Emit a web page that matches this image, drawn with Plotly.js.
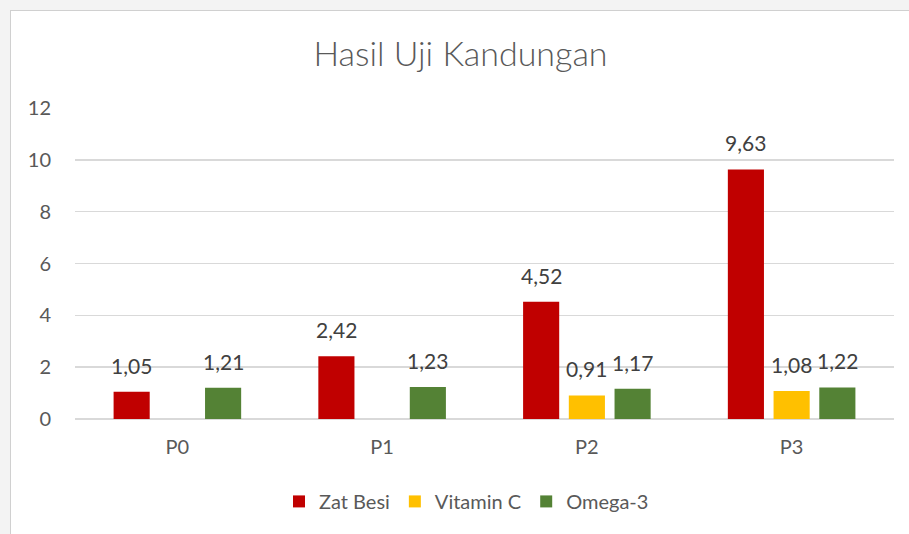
<!DOCTYPE html>
<html>
<head>
<meta charset="utf-8">
<script src="https://cdn.plot.ly/plotly-3.0.1.min.js"></script>
<style>
  html, body { margin: 0; padding: 0; background: #f3f3f3; width: 909px; height: 534px; overflow: hidden; }
  #chart { position: absolute; left: 10px; top: 10px; width: 899px; height: 524px; border-left: 1px solid #d0d0d0; border-top: 1px solid #d0d0d0; background: #fff; }
</style>
</head>
<body>
<div id="chart"></div>
<script>
const categories = ["P0", "P1", "P2", "P3"];
const zatBesi = [1.05, 2.42, 4.52, 9.63];
const vitaminC = [null, null, 0.91, 1.08];
const omega3 = [1.21, 1.23, 1.17, 1.22];
const seriesNames = ["Zat Besi", "Vitamin C", "Omega-3"];
const seriesColors = ["#C00000", "#FFC000", "#548235"];
const yTicks = [0, 2, 4, 6, 8, 10, 12];

const FONT = "Lato, 'Open Sans', sans-serif";
const fmt = v => v.toFixed(2).replace(".", ",");

const W = 899, H = 524;
const margin = { l: 64, r: 16, t: 97, b: 116 };
const bargap = 0.33, bargroupgap = 0.21;
const series = [zatBesi, vitaminC, omega3];

const data = series.map((vals, i) => ({
  type: "bar", name: seriesNames[i], x: categories, y: vals,
  marker: { color: seriesColors[i], line: { width: 0 } },
  hoverinfo: "skip"
}));

// data labels as annotations, offset to each bar's slot in the group
const catW = (W - margin.l - margin.r) / categories.length;
const slot = catW * (1 - bargap) / series.length;
const annotations = [];
series.forEach((vals, i) => {
  vals.forEach((v, j) => {
    if (v === null) return;
    annotations.push({
      x: categories[j], y: v, xref: "x", yref: "y",
      text: fmt(v), showarrow: false,
      xanchor: "center", yanchor: "bottom",
      xshift: (i - 1) * slot, yshift: 12,
      font: { family: FONT, size: 21, color: "#404040" }
    });
  });
});

const layout = {
  width: W, height: H, margin: margin,
  paper_bgcolor: "#ffffff", plot_bgcolor: "#ffffff",
  font: { family: FONT, color: "#595959", size: 20 },
  title: { text: "Hasil Uji Kandungan", font: { family: FONT, size: 34, color: "#595959", weight: 300 }, x: 0.5, xanchor: "center", y: 0.918, yanchor: "middle" },
  barmode: "group", bargap: bargap, bargroupgap: bargroupgap,
  xaxis: { type: "category", showgrid: false, zeroline: false, showline: false, ticks: "", tickfont: { size: 20, color: "#595959" }, ticklabelstandoff: 14 },
  yaxis: { range: [0, 12], tickvals: yTicks, ticktext: yTicks.map(String), showgrid: true, gridcolor: "#d9d9d9", gridwidth: 1.5, zeroline: true, zerolinecolor: "#d9d9d9", zerolinewidth: 1.5, showline: false, ticks: "", tickfont: { size: 20, color: "#595959" }, ticklabelstandoff: 23 },
  legend: { orientation: "h", x: 0.478, xanchor: "center", y: -0.265, yanchor: "middle", font: { size: 20, color: "#595959" }, itemwidth: 30 },
  annotations: annotations,
  showlegend: true
};

Plotly.newPlot("chart", data, layout, { displayModeBar: false, staticPlot: true });
</script>
</body>
</html>
